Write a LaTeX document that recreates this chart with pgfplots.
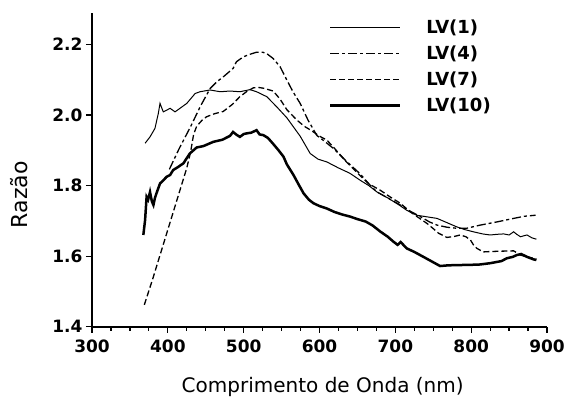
\documentclass[border=0pt]{standalone}
\usepackage{fontspec}
\setmainfont{DejaVu Sans}
\usepackage{pgfplots}
\pgfplotsset{compat=1.18}

\begin{document}
\begin{tikzpicture}
\begin{axis}[
  scale only axis,
  width=455pt, height=314pt,
  xmin=300, xmax=900, ymin=1.4, ymax=2.29,
  axis x line*=bottom, axis y line*=left,
  axis line style={line width=1.6pt},
  xtick={300,400,...,900},
  minor x tick num=3,
  ytick={1.4,1.6,1.8,2.0,2.2},
  tick align=outside,
  major tick length=6pt, minor tick length=4pt,
  tick style={line width=1.2pt, black},
  /pgf/number format/assume math mode=true,
  xticklabel style={/pgf/number format/fixed, /pgf/number format/1000 sep={}, yshift=-4pt},
  yticklabel style={/pgf/number format/fixed, /pgf/number format/fixed zerofill, /pgf/number format/precision=1},
  ticklabel style={font=\bfseries\fontsize{17}{20}\selectfont},
  xlabel={Comprimento de Onda (nm)},
  ylabel={Razão},
  label style={font=\fontsize{20}{24}\selectfont},
  xlabel style={at={(axis description cs:0.507,0)}, anchor=center, yshift=-60pt},
  ylabel style={font=\fontsize{22}{26}\selectfont},
  every axis y label/.append style={at={(axis description cs:-0.16,0.42)}, anchor=center},
  legend style={draw=none, fill=none, at={(axis description cs:0.52,0.985)}, anchor=north west,
    font=\bfseries\fontsize{18}{20}\selectfont, row sep=7pt, inner sep=0pt,
    /tikz/every odd column/.append style={column sep=23pt}},
  legend cell align=left,
  legend image code/.code={\draw[#1] (0pt,0pt) -- (70pt,0pt);},
]
\coordinate (O) at (rel axis cs:0,0);

% LV(1) thin solid
\addplot[black, line width=1.0pt] coordinates {
(370,1.920) (376.5,1.938) (383,1.962) (387.5,2.005) (389.7,2.033) (392,2.020)
(394,2.009) (398.6,2.014) (403,2.019) (409.5,2.009) (416,2.019) (425,2.033)
(436,2.061) (442.5,2.066) (455.7,2.071) (469,2.066) (482,2.068) (495,2.066)
(508.5,2.072) (517,2.066) (530.5,2.052) (543.7,2.023) (557,1.992) (574.5,1.940)
(587.7,1.891) (598,1.875) (609.7,1.867) (625,1.850) (640,1.835) (653.7,1.815)
(665,1.800) (675.7,1.782) (690,1.765) (705,1.745) (715,1.730) (728,1.716)
(740,1.712) (755,1.707) (768,1.695) (781,1.683) (792,1.675) (803,1.669)
(815,1.663) (825,1.660) (835,1.662) (843,1.663) (850,1.660) (856,1.669)
(860,1.662) (865,1.655) (870,1.658) (873.6,1.660) (880,1.652) (886,1.648)
};
\addlegendentry{LV(1)}

% LV(4) dash-dot
\addplot[black, line width=1.3pt, dash pattern=on 9pt off 3pt on 3pt off 3pt] coordinates {
(402,1.846) (415,1.905) (430,1.967) (443,2.025) (455.7,2.075) (465,2.095)
(473,2.108) (486,2.132) (490.5,2.151) (499.6,2.165) (508,2.172) (517,2.178)
(525,2.178) (530.5,2.174) (539,2.160) (548,2.137) (557,2.099) (565,2.066)
(574.5,2.033) (585,1.985) (596.5,1.942) (607,1.925) (618.5,1.905) (635,1.870)
(653.7,1.833) (665,1.805) (675.7,1.782) (690,1.765) (706.5,1.745) (720,1.727)
(733,1.712) (745,1.697) (755,1.688) (768,1.682) (781,1.679) (794,1.679)
(812,1.688) (834,1.697) (856,1.707) (870,1.713) (885,1.716)
};
\addlegendentry{LV(4)}

% LV(7) dashed
\addplot[black, line width=1.3pt, dash pattern=on 6pt off 3pt] coordinates {
(369,1.462) (380,1.535) (390,1.605) (400,1.675) (410,1.745) (420,1.815)
(425,1.850) (430,1.895) (434,1.945) (438,1.968) (445,1.985) (451,1.995)
(462,2.004) (473,2.010) (485,2.030) (495,2.052) (505,2.068) (512.8,2.077)
(520,2.078) (526,2.076) (539,2.068) (548,2.045) (557,2.015) (570,1.986)
(580,1.968) (590,1.955) (600,1.940) (609.7,1.929) (620,1.905) (635,1.868)
(653.7,1.828) (665,1.805) (680,1.787) (693,1.768) (706.5,1.750) (720,1.725)
(730,1.710) (741.6,1.693) (750,1.678) (757,1.665) (768,1.653) (778,1.656)
(785.6,1.660) (793,1.655) (799,1.646) (803,1.632) (807.6,1.622) (816,1.612)
(825,1.613) (838,1.614) (856,1.615) (865,1.603) (873.6,1.598) (882,1.594) (886,1.592)
};
\addlegendentry{LV(7)}

% LV(10) thick solid
\addplot[black, line width=2.5pt] coordinates {
(367.7,1.660) (370,1.702) (372,1.768) (374,1.760) (376.5,1.782) (379,1.755)
(381,1.745) (383,1.765) (385,1.778) (389.7,1.806) (394,1.815) (398.5,1.825)
(403,1.830) (407,1.844) (413,1.852) (420.5,1.863) (429,1.891) (438,1.908)
(447,1.912) (460,1.924) (472,1.930) (482,1.941) (486,1.952) (490,1.945)
(495,1.938) (500,1.946) (504,1.948) (510,1.950) (517,1.957) (521,1.945)
(526,1.943) (532,1.935) (539,1.918) (546,1.900) (552.5,1.882) (557,1.860)
(565.7,1.830) (572,1.805) (579,1.778) (586,1.760) (592,1.750) (600,1.742)
(609.7,1.735) (620,1.725) (630,1.718) (640.5,1.712) (650,1.705) (661,1.698)
(670,1.687) (680,1.670) (690,1.655) (697.5,1.641) (703,1.632) (707,1.640)
(715,1.622) (725,1.612) (737,1.598) (748,1.585) (759,1.572) (770,1.574)
(790,1.575) (810,1.576) (825,1.580) (840,1.586) (847,1.594) (855,1.598)
(860,1.603) (866,1.606) (873.6,1.598) (882,1.591) (886,1.589)
};
\addlegendentry{LV(10)}
\end{axis}
\pgfresetboundingbox
\path[use as bounding box] (O) ++(-92pt,-78.3pt) rectangle ++(564pt,405pt);
\end{tikzpicture}
\end{document}
